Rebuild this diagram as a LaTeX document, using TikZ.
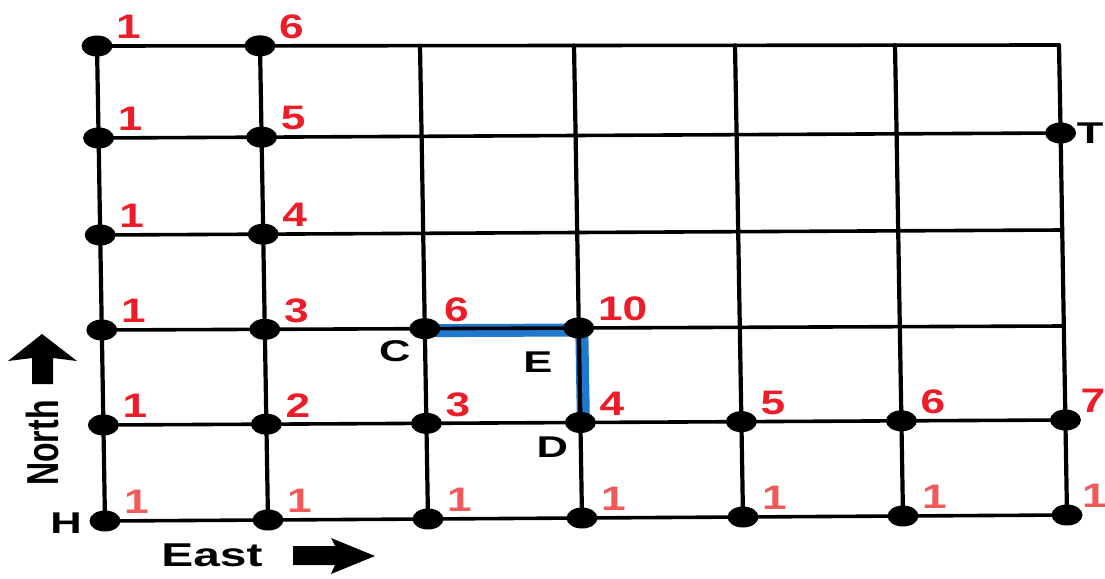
\documentclass[tikz,border=0pt]{standalone}
\usepackage{fontspec}
\setmainfont{Liberation Sans}
\usetikzlibrary{shapes.geometric}
\definecolor{numred}{RGB}{236,28,40}
\definecolor{numpink}{RGB}{240,90,90}
\definecolor{pathblue}{RGB}{30,120,205}
\newcommand\hstretch[2]{\scalebox{#1}[1]{#2}}
\begin{document}
\begin{tikzpicture}[x=1pt,y=-1pt,
  dot/.style={ellipse, fill=black, minimum width=31pt, minimum height=21pt, inner sep=0pt},
  num/.style={text=numred, font=\fontsize{34}{34}\selectfont\bfseries, anchor=west, xshift=19pt, yshift=19pt, inner sep=0pt},
  numlow/.style={num, text=numpink},
  letter/.style={font=\fontsize{30}{30}\selectfont\bfseries, inner sep=0pt},
  hline/.style={line width=3.6pt, line cap=round, line join=round},
  vline/.style={line width=4.2pt, line cap=round, line join=round},
  bluepath/.style={pathblue, line width=13pt, line join=miter}]
\useasboundingbox (0,0) rectangle (1105,578);
\fill[white] (0,0) rectangle (1105,578);
% grid coordinates
\foreach \c in {0,...,6} {
  \foreach \r in {0,...,5} {
    \pgfmathsetmacro\xx{{105,268,428,582,743,903,1067}[\c]-1.6*\r}
    \pgfmathsetmacro\yl{{521,425,330,235,138,46}[\r]}
    \pgfmathsetmacro\yr{{515,420,326,230,133,45}[\r]}
    \pgfmathsetmacro\yy{\yl+(\yr-\yl)*\c/6}
    \coordinate (p-\c-\r) at (\xx,\yy);
  }
}
% blue route C -> E -> D
\draw[bluepath] ([yshift=-2pt]p-2-2) -- ([xshift=3pt,yshift=-2pt]p-3-2) -- ([xshift=3pt]p-3-1);
% grid lines
\foreach \r in {0,...,5} {
  \draw[hline] (p-0-\r) -- (p-1-\r) -- (p-2-\r) -- (p-3-\r) -- (p-4-\r) -- (p-5-\r) -- (p-6-\r);
}
\foreach \c in {0,...,6} {
  \draw[vline] (p-\c-0) -- (p-\c-1) -- (p-\c-2) -- (p-\c-3) -- (p-\c-4) -- (p-\c-5);
}
% dots
\foreach \c/\r in {0/0,0/1,0/2,0/3,0/4,0/5,1/0,1/1,1/2,1/3,1/4,1/5,2/0,2/1,2/2,3/0,3/1,3/2,4/0,4/1,5/0,5/1,6/0,6/1,6/4} {
  \node[dot] (d-\c-\r) at (p-\c-\r) {};
}
% red numbers
\foreach \c/\r/\v in {0/1/1,0/2/1,0/3/1,0/4/1,0/5/1,1/1/2,1/2/3,1/3/4,1/4/5,1/5/6,2/1/3,2/2/6,3/1/4,3/2/10,4/1/5,5/1/6} {
  \node[num] (n-\c-\r) at (d-\c-\r.center) {\hstretch{1.3}{\v}};
}
\node[num, xshift=-4pt] (n-6-1) at (d-6-1.center) {\hstretch{1.3}{7}};
\foreach \c in {0,...,5} {
  \node[numlow] (n-\c-0) at (d-\c-0.center) {\hstretch{1.3}{1}};
}
\node[numlow, xshift=-4pt] (n-6-0) at (d-6-0.center) {\hstretch{1.3}{1}};
% letters
\node[letter, xshift=-39pt, yshift=-2pt] (H) at (d-0-0.center) {\hstretch{1.45}{H}};
\node[letter, xshift=-30pt, yshift=-23pt] (C) at (d-2-2.center) {\hstretch{1.45}{C}};
\node[letter, xshift=-41pt, yshift=-34pt] (E) at (d-3-2.center) {\hstretch{1.45}{E}};
\node[letter, xshift=-28pt, yshift=-25pt] (D) at (d-3-1.center) {\hstretch{1.45}{D}};
\node[letter, anchor=west, xshift=16pt] (T) at (d-6-4.center) {\hstretch{1.45}{T}};
% direction labels
\node[letter, font=\fontsize{32}{32}\selectfont\bfseries] (north) at (42,443) {\scalebox{1.4}[1]{\rotatebox{90}{North}}};
\node[letter, font=\fontsize{33}{33}\selectfont\bfseries] (east) at (212,555) {\hstretch{1.45}{East}};
% arrows
\fill[black] (42,334) -- (77,361) -- (53,358) -- (53,384) -- (32,384) -- (32,358) -- (8,361) -- cycle;
\fill[black] (375,556) -- (331,574) -- (335,565) -- (293,565) -- (293,546) -- (335,546) -- (331,538) -- cycle;
\end{tikzpicture}
\end{document}
